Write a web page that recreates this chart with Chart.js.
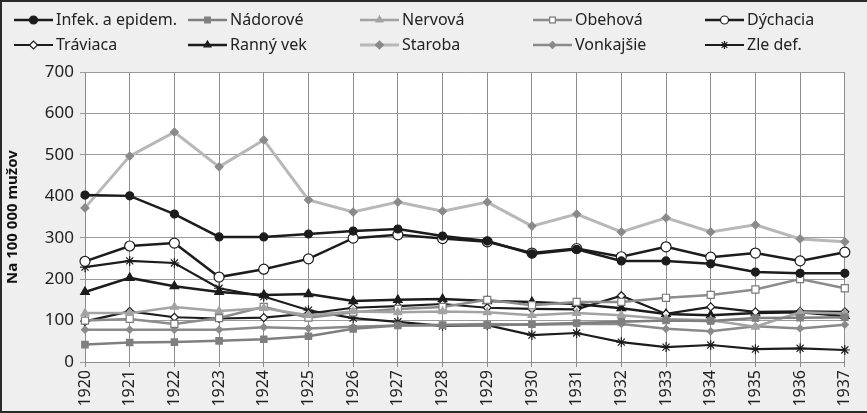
<!DOCTYPE html>
<html>
<head>
<meta charset="utf-8">
<script src="https://cdn.jsdelivr.net/npm/chart.js@4/dist/chart.umd.min.js"></script>
<style>
  html, body { margin: 0; padding: 0; background: #fff; }
  #wrap {
    width: 867px; height: 413px; box-sizing: border-box;
    border-top: 2px solid #2a2a2a; border-left: 2px solid #2a2a2a; border-bottom: 2px solid #2a2a2a;
    background: #efefef;
  }
  #chart { display: block; }
</style>
</head>
<body>
<div id="wrap"><canvas id="chart" width="865" height="409"></canvas></div>
<script>
// ================= DATA =================
const years = ["1920", "1921", "1922", "1923", "1924", "1925", "1926", "1927", "1928",
  "1929", "1930", "1931", "1932", "1933", "1934", "1935", "1936", "1937"];
const yTicks = [0, 100, 200, 300, 400, 500, 600, 700];

const infek     = [403, 401, 357, 302, 302, 309, 316, 321, 304, 292, 261, 272, 244, 244, 237, 217, 214, 214];
const nadorove  = [42, 47, 48, 51, 55, 62, 80, 88, 89, 89, 91, 94, 97, 100, 99, 106, 107, 108];
const nervova   = [118, 118, 133, 123, 130, 113, 122, 120, 122, 120, 113, 118, 113, 104, 101, 85, 120, 117];
const obehova   = [100, 104, 92, 106, 133, 107, 120, 128, 133, 150, 137, 145, 145, 155, 162, 175, 200, 178];
const dychacia  = [243, 280, 287, 205, 224, 249, 299, 307, 298, 290, 263, 274, 254, 278, 253, 263, 244, 265];
const traviaca  = [98, 122, 108, 105, 107, 117, 131, 135, 140, 131, 128, 127, 160, 116, 133, 121, 122, 121];
const rannyVek  = [169, 203, 183, 169, 162, 164, 147, 150, 152, 147, 145, 140, 130, 116, 113, 118, 120, 111];
const staroba   = [372, 497, 555, 471, 536, 391, 362, 386, 364, 386, 328, 357, 314, 348, 314, 331, 297, 290];
const vonkajsie = [78, 78, 78, 78, 84, 81, 85, 88, 90, 92, 90, 92, 92, 80, 74, 86, 81, 90];
const zleDef    = [229, 244, 239, 178, 158, 125, 106, 97, 87, 89, 65, 70, 48, 36, 41, 31, 33, 29];

const FONT = "'Noto Sans', 'Open Sans', sans-serif";

// ================= SERIES STYLE =================
function series(label, data, line, width, style, radius, fill, border) {
  return {
    label, data,
    borderColor: line, borderWidth: width,
    pointStyle: style, pointRadius: radius,
    pointBackgroundColor: fill, pointBorderColor: border || line,
    pointBorderWidth: 1.2, tension: 0, fill: false
  };
}

const datasets = [
  series("Infek. a epidem.", infek, "#1c1c1c", 2.5, "circle", 4, "#1c1c1c"),
  series("Nádorové", nadorove, "#7f7f7f", 2.5, "rect", 4.5, "#7f7f7f"),
  series("Nervová", nervova, "#a3a3a3", 2.5, "triangle", 4.5, "#a3a3a3"),
  series("Obehová", obehova, "#8c8c8c", 2.5, "rect", 5, "#ffffff", "#7a7a7a"),
  series("Dýchacia", dychacia, "#1c1c1c", 2.5, "circle", 5, "#ffffff"),
  series("Tráviaca", traviaca, "#1c1c1c", 2.2, "rectRot", 4, "#ffffff"),
  series("Ranný vek", rannyVek, "#1c1c1c", 2.5, "triangle", 5, "#1c1c1c"),
  series("Staroba", staroba, "#b8b8b8", 3, "rectRot", 4, "#8a8a8a", "#8a8a8a"),
  series("Vonkajšie", vonkajsie, "#8a8a8a", 2.5, "rectRot", 3.5, "#8a8a8a"),
  series("Zle def.", zleDef, "#1c1c1c", 2.2, "star", 5, "#1c1c1c")
];

// ================= PLUGINS =================
const plotBg = {
  id: "plotBg",
  beforeDraw(chart) {
    const { ctx, chartArea: a } = chart;
    ctx.save();
    ctx.fillStyle = "#ffffff";
    ctx.fillRect(a.left, a.top, a.right - a.left, a.bottom - a.top);
    ctx.restore();
  }
};

// legend in fixed columns, two rows
const gridLegend = {
  id: "gridLegend",
  afterDraw(chart) {
    const ctx = chart.ctx;
    const colX = [12, 186, 358, 531, 703];
    const rowY = [18, 43];
    ctx.save();
    ctx.font = "16px " + FONT;
    ctx.textBaseline = "middle";
    chart.data.datasets.forEach((ds, i) => {
      const x = colX[i % 5];
      const y = rowY[Math.floor(i / 5)];
      ctx.strokeStyle = ds.borderColor;
      ctx.lineWidth = ds.borderWidth;
      ctx.beginPath();
      ctx.moveTo(x, y);
      ctx.lineTo(x + 39, y);
      ctx.stroke();
      ctx.fillStyle = ds.pointBackgroundColor;
      ctx.strokeStyle = ds.pointBorderColor;
      ctx.lineWidth = 1.2;
      Chart.helpers.drawPoint(ctx, { pointStyle: ds.pointStyle, radius: Math.min(ds.pointRadius, 4), rotation: 0, borderWidth: 1.2 }, x + 19.5, y);
      ctx.fillStyle = "#222";
      ctx.fillText(ds.label, x + 42, y);
    });
    ctx.restore();
  }
};

// ================= CHART =================
new Chart(document.getElementById("chart"), {
  type: "line",
  data: { labels: years, datasets },
  plugins: [plotBg, gridLegend],
  options: {
    responsive: false,
    animation: false,
    layout: { padding: { top: 70, right: 13, left: 0, bottom: 0 } },
    plugins: { legend: { display: false }, tooltip: { enabled: false } },
    scales: {
      x: {
        offset: false,
        grid: { color: "#8c8c8c", lineWidth: 1, tickLength: 5 },
        border: { color: "#8c8c8c" },
        ticks: { color: "#222", font: { family: FONT, size: 16 }, maxRotation: 90, minRotation: 90, padding: 3 },
        afterFit(s) { s.height = 49; }
      },
      y: {
        min: 0, max: 700,
        afterBuildTicks(s) { s.ticks = yTicks.map(v => ({ value: v })); },
        grid: { color: "#9a9a9a", lineWidth: 1, tickLength: 5 },
        border: { color: "#8c8c8c" },
        ticks: { color: "#222", font: { family: FONT, size: 17 }, padding: 6 },
        title: { display: true, text: "Na 100 000 mužov", color: "#111", font: { family: FONT, size: 15, weight: "bold" }, padding: 2 },
        afterFit(s) { s.width = 83; }
      }
    }
  }
});
</script>
</body>
</html>
